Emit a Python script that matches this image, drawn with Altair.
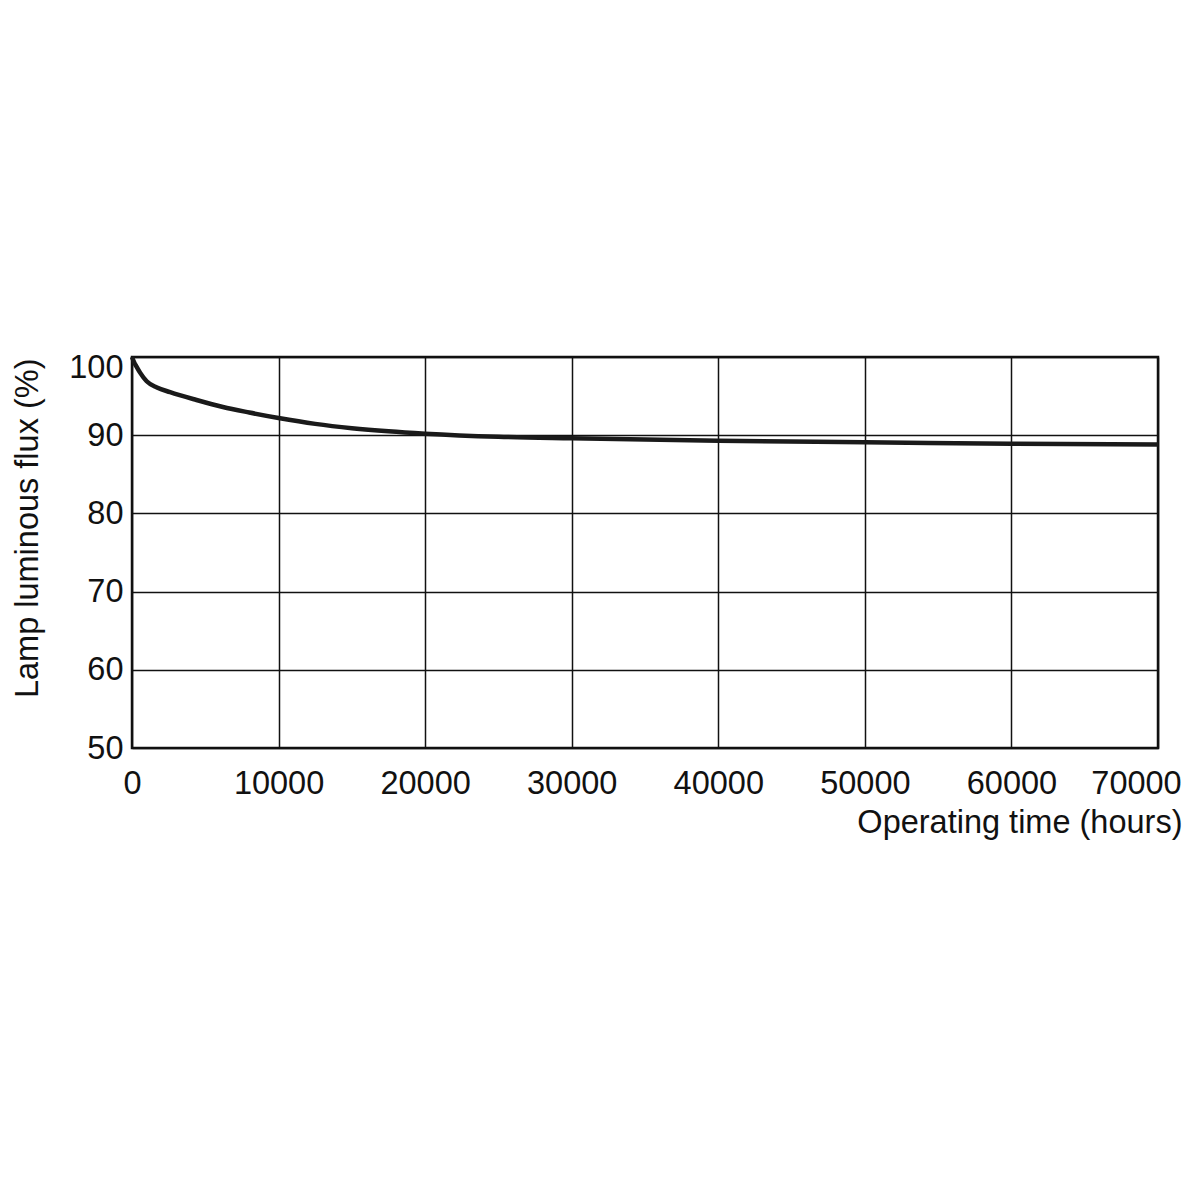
import altair as alt
import pandas as pd

hours = [0, 150, 300, 550, 1000, 1700, 2600, 4400, 6200, 8000, 10000, 12500,
         15000, 17500, 20000, 25000, 30000, 40000, 50000, 60000, 70000]
flux = [100, 99.3, 98.8, 98.0, 96.9, 96.1, 95.5, 94.5, 93.6, 92.9, 92.2, 91.45,
        90.9, 90.5, 90.2, 89.8, 89.6, 89.3, 89.1, 88.9, 88.8]

x_ticks = [0, 10000, 20000, 30000, 40000, 50000, 60000, 70000]
y_ticks = [50, 60, 70, 80, 90, 100]

df = pd.DataFrame({"hours": hours, "flux": flux})

FONT = "Liberation Sans"
FS = 32.5

chart = alt.Chart(df).mark_line(
    color="#1a1a1a", strokeWidth=4.5, interpolate="monotone"
).encode(
    x=alt.X("hours:Q",
            scale=alt.Scale(domain=[0, 70000], nice=False),
            axis=alt.Axis(values=x_ticks, format="d", grid=True, domain=False,
                          ticks=False, labelPadding=19, labelOverlap=False,
                          labelFlush=False,
                          labelOffset={"condition": {"test": "datum.value == 70000", "value": -22}, "value": 0},
                          title="Operating time (hours)",
                          titleX=1050, titleY=84, titleAlign="right",
                          titleBaseline="alphabetic", titleFontWeight="normal")),
    y=alt.Y("flux:Q",
            scale=alt.Scale(domain=[50, 100], nice=False),
            axis=alt.Axis(values=y_ticks, grid=True, domain=False, ticks=False,
                          labelPadding=9, labelOverlap=False, labelFlush=False,
                          labelBaseline="middle",
                          labelOffset={"condition": {"test": "datum.value == 100", "value": 10}, "value": 0},
                          title="Lamp luminous flux (%)",
                          titleAngle=-90, titleX=-95, titleY=1,
                          titleAlign="right", titleBaseline="alphabetic",
                          titleFontWeight="normal")),
).properties(
    width=1026, height=391,
    background="white",
    autosize=alt.AutoSizeParams(type="none"),
    padding={"left": 124, "top": 349, "right": 25, "bottom": 150},
).configure_view(
    stroke="#111111", strokeWidth=2.5
).configure_axis(
    gridColor="#111111", gridWidth=1.5, gridOpacity=1,
    labelFont=FONT, labelFontSize=FS, labelColor="#111111",
    titleFont=FONT, titleFontSize=FS, titleColor="#111111",
)

chart.save("out.html", embed_options={"renderer": "svg", "actions": False})
